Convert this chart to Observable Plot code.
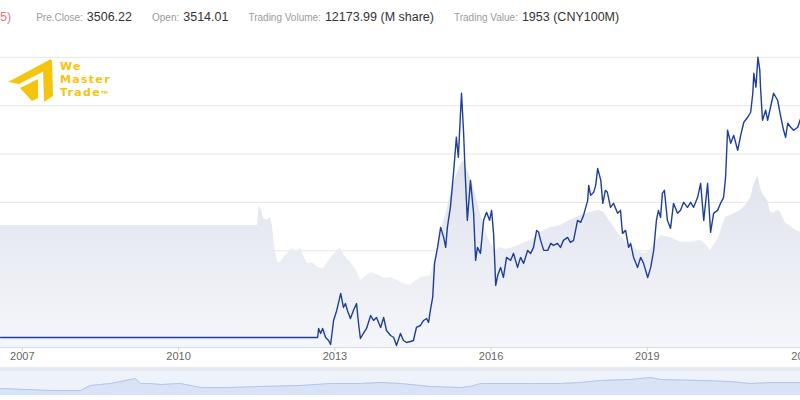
<!DOCTYPE html>
<html>
<head>
<meta charset="utf-8">
<script src="https://cdn.jsdelivr.net/npm/d3@7"></script>
<script src="https://cdn.jsdelivr.net/npm/@observablehq/plot@0.6"></script>
<style>
  html, body { margin: 0; padding: 0; background: #fff; overflow: hidden; width: 800px; height: 400px; }
  #wrap { position: relative; width: 800px; height: 400px; overflow: hidden; font-family: "Liberation Sans", Arial, sans-serif; }
  #header { position: absolute; top: 10px; left: 0; display: flex; align-items: baseline; white-space: nowrap; }
  #header .chg { color: #e8777a; font-size: 12.5px; margin-right: 25px; }
  #header .lb { color: #9b9b9b; font-size: 10px; margin-right: 4px; }
  #header .vl { color: #333; font-size: 12.5px; margin-right: 20px; }
  #main { position: absolute; top: 0; left: 0; width: 840px; height: 365px; }
  #navbg { position: absolute; top: 367px; left: 0; width: 800px; height: 28px; background: #eef2fa; border-top: 4px solid #e6e9ef; box-sizing: border-box; }
  #nav { position: absolute; top: 367px; left: 0; width: 840px; height: 28px; }
  #main svg, #nav svg { max-width: none !important; }
  #logo { position: absolute; left: 6px; top: 56px; width: 120px; height: 50px; }
  #logo .txt { position: absolute; left: 54px; top: 4px; color: #f5c40c; font-family: "DejaVu Sans", sans-serif; font-weight: bold; font-size: 11px; line-height: 13px; letter-spacing: 1.3px; }
  #logo .tm { font-size: 4px; vertical-align: top; letter-spacing: 0; }
</style>
</head>
<body>
<div id="wrap">
  <div id="main"></div>
  <div id="navbg"></div>
  <div id="nav"></div>
  <div id="header"></div>
  <div id="logo">
    <svg width="50" height="50" viewBox="0 0 50 50" style="position:absolute;left:0;top:0">
      <polygon points="2,26 45,3 46,11 13,28" fill="#f5c40c"/>
      <polygon points="37,10 46,4 47,40 38,46" fill="#f5c40c"/>
      <polygon points="14,32 32,23 32,42 26,45" fill="#f5c40c"/>
    </svg>
    <div class="txt">We<br>Master<br>Trade<span class="tm">TM</span></div>
  </div>
</div>
<script>
// ---- header stats ----
const changeText = "5)";
const statLabels = ["Pre.Close:", "Open:", "Trading Volume:", "Trading Value:"];
const statValues = ["3506.22", "3514.01", "12173.99 (M share)", "1953 (CNY100M)"];

// ---- x-axis tick labels ----
const tickYears = ["2007", "2010", "2013", "2016", "2019", "2022"];

// ---- price line ----
const lineDates = [
  "2006-08-01","2012-09-02","2012-09-09","2012-09-23","2012-10-07","2012-10-28","2012-11-18","2012-12-02","2012-12-23",
  "2013-01-14","2013-02-11","2013-03-02","2013-03-16","2013-03-30","2013-04-20","2013-05-11","2013-06-02","2013-06-16",
  "2013-06-29","2013-07-20","2013-08-11","2013-09-09","2013-09-29","2013-10-20","2013-11-18","2013-12-09","2013-12-29",
  "2014-01-27","2014-02-18","2014-03-09","2014-04-06","2014-04-27","2014-05-18","2014-06-15","2014-07-06","2014-07-27",
  "2014-08-24","2014-09-15","2014-10-06","2014-10-20","2014-11-04","2014-11-18","2014-12-01","2014-12-22",
  "2015-01-13","2015-02-03","2015-02-17","2015-03-01","2015-03-22","2015-04-13","2015-05-03","2015-05-17","2015-06-01",
  "2015-06-08","2015-06-22","2015-07-05","2015-07-19","2015-08-10","2015-09-01","2015-09-15","2015-09-28","2015-10-19",
  "2015-11-10","2015-12-01","2015-12-22","2016-01-05","2016-01-19","2016-02-03","2016-02-17","2016-03-08","2016-03-28",
  "2016-04-19","2016-05-17","2016-06-07","2016-07-05","2016-07-26","2016-08-17","2016-09-14","2016-10-05","2016-10-25",
  "2016-11-16","2016-11-30","2016-12-14","2017-01-05","2017-02-02","2017-02-23","2017-03-14","2017-04-11","2017-05-02",
  "2017-05-23","2017-06-21","2017-07-11","2017-08-02","2017-08-30","2017-09-21","2017-10-11","2017-11-09","2017-11-16",
  "2017-11-30","2017-12-21","2018-01-04","2018-01-18","2018-02-09","2018-02-23","2018-03-13","2018-03-27","2018-04-18",
  "2018-05-09","2018-06-07","2018-06-27","2018-07-11","2018-08-02","2018-08-23","2018-09-06","2018-09-27","2018-10-25",
  "2018-11-15","2018-12-06","2019-01-04","2019-01-25","2019-02-15","2019-03-06","2019-03-20","2019-04-04","2019-04-17",
  "2019-05-01","2019-05-22","2019-06-13","2019-07-04","2019-08-01","2019-08-22","2019-09-13","2019-10-10","2019-11-01",
  "2019-11-22","2019-12-20","2020-01-10","2020-02-01","2020-02-28","2020-03-20","2020-04-10","2020-05-08","2020-05-29",
  "2020-06-19","2020-07-03","2020-07-17","2020-08-08","2020-08-29","2020-09-26","2020-10-17","2020-11-08","2020-12-05",
  "2020-12-26","2021-01-10","2021-01-17","2021-02-01","2021-02-15","2021-02-28","2021-03-05","2021-03-19","2021-04-10",
  "2021-04-24","2021-05-14","2021-06-05","2021-07-03","2021-07-23","2021-08-14","2021-08-28","2021-09-12","2021-10-03",
  "2021-10-23","2021-11-21","2021-12-12","2022-01-17"
];
const lineValues = [
  207,207,393,290,393,207,145,62,559,
  766,1118,828,911,766,600,766,911,497,
  186,290,393,662,559,621,414,621,352,
  248,207,41,290,145,104,124,145,414,
  455,559,600,518,807,1035,1739,2070,
  2484,2277,2070,2484,2898,3602,4347,3933,4844,
  5258,4492,3519,2629,3457,2774,1801,2070,1946,
  2629,2795,2629,2836,2360,1283,1490,1656,1449,
  1863,1801,1946,1656,1863,1739,2008,1946,2070,
  2422,2381,2215,2008,2008,2153,2111,2153,2070,
  2215,2277,2174,2215,2629,2588,2732,3043,3353,
  3146,3209,3353,3705,3457,2981,3250,3209,2898,
  2981,2774,2836,2360,2422,2070,2153,1863,1656,
  1863,1739,1449,1656,2008,2629,2836,2691,3188,
  3250,2629,2463,2981,2774,2836,3002,2898,3002,
  2898,3105,3395,2629,3395,2381,2774,2836,2981,
  3105,3519,4492,4223,4388,4078,4388,4658,4761,
  4865,5258,5672,5382,6003,5734,5382,4699,4906,
  4699,4968,5258,5113,4802,4492,4347,4637,4554,
  4492,4554,4740,4699
];

// ---- grey comparison area ----
const areaDates = [
  "2006-08-01","2011-07-07","2011-07-21","2011-08-05","2011-08-19","2011-09-17","2011-10-07","2011-10-21","2011-11-05",
  "2011-11-26","2011-12-16","2012-01-21","2012-03-09","2012-04-07","2012-05-05","2012-05-25","2012-06-23","2012-07-28",
  "2012-09-02","2012-10-14","2012-12-02","2013-01-20","2013-02-11","2013-03-09","2013-04-20","2013-05-25","2013-06-09",
  "2013-06-29","2013-08-04","2013-09-09","2013-11-04","2013-12-22","2014-01-27","2014-03-15","2014-04-27","2014-06-15",
  "2014-07-20","2014-08-24","2014-09-29","2014-11-04","2014-12-08","2015-01-13","2015-02-17","2015-03-22","2015-04-26",
  "2015-06-01","2015-06-22","2015-07-12","2015-08-10","2015-09-15","2015-10-19","2015-11-24","2015-12-29","2016-02-03",
  "2016-03-08","2016-04-12","2016-06-07","2016-07-26","2016-10-05","2016-12-14","2017-02-23","2017-05-02","2017-07-11",
  "2017-09-21","2017-11-30","2018-01-25","2018-03-01","2018-04-18","2018-06-27","2018-09-06","2018-11-15","2018-12-20",
  "2019-01-25","2019-02-28","2019-04-04","2019-05-08","2019-06-13","2019-08-22","2019-11-01","2020-01-10","2020-02-15",
  "2020-03-20","2020-04-10","2020-05-15","2020-06-13","2020-07-03","2020-08-08","2020-10-17","2020-11-22","2020-12-26",
  "2021-01-17","2021-02-15","2021-03-05","2021-03-26","2021-04-24","2021-05-14","2021-06-05","2021-07-03","2021-07-23",
  "2021-08-28","2021-10-03","2021-11-07","2021-12-12","2022-01-17"
];
const areaValues = [
  2525,2525,2939,2836,2670,2629,2691,2525,2111,
  1760,1760,1904,2049,1967,2049,1904,1739,1760,
  1656,1635,1842,2008,2049,1904,1760,1635,1553,
  1387,1470,1553,1490,1428,1449,1387,1325,1283,
  1366,1449,1470,1490,1842,2422,2732,3146,3498,
  3767,3871,3705,3519,3146,2774,2381,2153,2008,
  2070,2029,2070,2132,2215,2381,2484,2525,2629,
  2732,2795,2836,2795,2588,2298,2111,1967,1946,
  2029,2153,2318,2298,2277,2174,2174,2215,2132,
  2008,2111,2256,2525,2691,2732,2836,2939,3084,
  3353,3560,3291,3146,3043,2795,2774,2836,2795,
  2567,2505,2422,2381,2381
];

// ---- navigator overview ----
const navDates = [
  "2006-08-01","2007-07-18","2008-02-13","2008-04-23","2008-09-10","2008-12-25","2009-03-05","2009-04-09","2009-06-18",
  "2009-08-27","2010-01-14","2010-06-04","2010-12-30","2011-07-28","2012-05-05","2012-12-01","2013-06-30","2013-11-17",
  "2014-04-06","2014-11-02","2015-06-01","2015-08-10","2015-10-19","2016-10-04","2017-05-02","2017-09-19","2018-02-07",
  "2018-09-05","2019-01-23","2019-04-03","2020-01-09","2020-08-06","2020-12-24","2021-05-14","2021-12-10","2022-09-17"
];
const navValues = [
  700,500,500,1000,1200,1500,1700,1200,1200,
  1100,1200,800,800,900,1000,1200,1200,1300,
  1200,900,800,900,1200,1200,1200,1300,1500,
  1600,1800,1600,1500,1400,1200,1300,1300,1300
];

// ---- build header ----
const header = document.getElementById("header");
const chg = document.createElement("span"); chg.className = "chg"; chg.textContent = changeText; header.appendChild(chg);
statLabels.forEach((l, i) => {
  const a = document.createElement("span"); a.className = "lb"; a.textContent = l; header.appendChild(a);
  const b = document.createElement("span"); b.className = "vl"; b.textContent = statValues[i]; header.appendChild(b);
});

const parse = s => new Date(s + "T00:00:00Z");
const lineData = lineDates.map((d, i) => ({date: parse(d), value: lineValues[i]}));
const areaData = areaDates.map((d, i) => ({date: parse(d), value: areaValues[i]}));
const navData = navDates.map((d, i) => ({date: parse(d), value: navValues[i]}));
const ticks = tickYears.map(y => parse(y + "-01-01"));
const xDomain = [parse("2006-08-01"), parse("2022-09-17")];
const W = 840;

const main = Plot.plot({
  width: W, height: 365,
  marginLeft: 0, marginRight: 0, marginTop: 8.5, marginBottom: 18,
  style: {background: "transparent", fontFamily: "Liberation Sans, Arial, sans-serif", fontSize: "11px", overflow: "visible", maxWidth: "none"},
  x: {type: "utc", domain: xDomain, axis: null},
  y: {domain: [0, 7000], axis: null},
  marks: [
    Plot.ruleY(d3.range(1000, 7000, 1000), {stroke: "#e6e6e6", strokeWidth: 1}),
    Plot.areaY(areaData, {x: "date", y: "value", fill: "url(#greyGrad)"}),
    Plot.ruleY([0], {stroke: "#d9dee6", strokeWidth: 1}),
    Plot.axisX(ticks, {tickFormat: d3.utcFormat("%Y"), tickSize: 4, tickPadding: 1, color: "#666", stroke: "#cfd3da", fontSize: 11, label: null}),
    Plot.lineY(lineData, {x: "date", y: "value", stroke: "#1e3f96", strokeWidth: 1.4, strokeLinejoin: "round"})
  ]
});
main.insertAdjacentHTML("afterbegin",
  '<defs><linearGradient id="greyGrad" gradientUnits="userSpaceOnUse" x1="0" y1="150" x2="0" y2="347">' +
  '<stop offset="0" stop-color="#dde1ec"/><stop offset="1" stop-color="#f5f6fa"/></linearGradient></defs>');
main.style.width = W + "px"; main.style.height = "365px";
document.getElementById("main").appendChild(main);

const nav = Plot.plot({
  width: W, height: 28,
  marginLeft: 0, marginRight: 0, marginTop: 0, marginBottom: 0,
  style: {background: "transparent", overflow: "visible", maxWidth: "none"},
  x: {type: "utc", domain: xDomain, axis: null},
  y: {domain: [0, 2800], axis: null},
  marks: [
    Plot.areaY(navData, {x: "date", y: "value", fill: "#d8e3f8"}),
    Plot.lineY(navData, {x: "date", y: "value", stroke: "#b3c5ea", strokeWidth: 1})
  ]
});
nav.style.width = W + "px"; nav.style.height = "28px";
document.getElementById("nav").appendChild(nav);
</script>
</body>
</html>
